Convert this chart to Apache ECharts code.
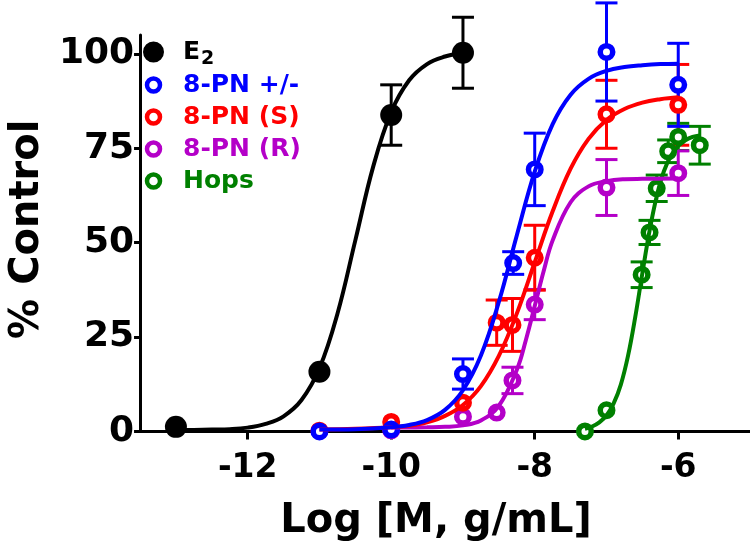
<!DOCTYPE html>
<html>
<head>
<meta charset="utf-8">
<script src="https://cdn.jsdelivr.net/npm/echarts@6/dist/echarts.min.js"></script>
<style>html,body{margin:0;padding:0;background:#fff}#c{width:750px;height:549px}</style>
</head>
<body>
<div id="c"></div>
<script>
// ---- data ----
const seriesNames = ['E2', '8-PN +/-', '8-PN (S)', '8-PN (R)', 'Hops'];
const colors = ['#000000', '#0000ff', '#ff0000', '#b400c8', '#008000'];

const e2X = [-13, -12, -11, -10, -9];
const e2Y = [1.2, -0.3, 15.8, 83.8, 100.3];
const e2Err = [0, 0, 0, 8, 9.4];

const pnX = [-11, -10, -9, -8.3, -8, -7, -6];
const pnY = [0, 0.5, 15.2, 44.6, 69.4, 100.5, 91.8];
const pnErr = [0, 0, 4, 3, 9.6, 13, 11];

const pnSX = [-11, -10, -9, -8.53, -8.31, -8, -7, -6];
const pnSY = [0.2, 2.5, 7.6, 28.8, 28.2, 46, 84, 86.5];
const pnSErr = [0, 0, 0, 6, 7, 8.6, 9, 10.7];

const pnRX = [-10, -9, -8.53, -8.31, -8, -7, -6];
const pnRY = [0.3, 3.9, 5.0, 13.5, 33.6, 64.6, 68.4];
const pnRErr = [0, 0, 0, 3.5, 4, 7.4, 5.9];

const hopsX = [-7.3, -7, -6.51, -6.4, -6.3, -6.14, -6, -5.7];
const hopsY = [0, 5.6, 41.5, 52.7, 64.4, 74.2, 78, 75.8];
const hopsErr = [0, 0, 3.4, 3.2, 3.5, 3, 3.6, 5];

// fitted curves
const e2Curve = [[-13,0.3],[-12.75,0.4],[-12.5,0.5],[-12.25,0.6],[-12,1.0],[-11.75,2.0],[-11.5,4.0],[-11.25,8.3],[-11,16.7],[-10.75,31.1],[-10.5,50.6],[-10.25,70.2],[-10,84.6],[-9.75,93.0],[-9.5,97.3],[-9.25,99.3],[-9,100.3]];
const pnCurve = [[-11,0.5],[-10.5,0.6],[-10,1.1],[-9.75,1.7],[-9.5,3.0],[-9.25,5.7],[-9,10.9],[-8.75,20.1],[-8.5,34.3],[-8.25,51.9],[-8,68.8],[-7.75,81.4],[-7.5,89.2],[-7.25,93.4],[-7,95.5],[-6.75,96.5],[-6.5,97.0],[-6.25,97.3],[-6,97.4]];
const pnSCurve = [[-11,0.5],[-10.5,0.7],[-10,1.1],[-9.75,1.5],[-9.5,2.4],[-9.25,4.1],[-9,7.0],[-8.75,12.0],[-8.5,20.0],[-8.25,31.2],[-8,44.8],[-7.75,58.3],[-7.5,69.6],[-7.25,77.5],[-7,82.5],[-6.75,85.4],[-6.5,87.1],[-6.25,88.0],[-6,88.5]];
const pnRCurve = [[-10,1.0],[-9.5,1.1],[-9.25,1.2],[-9,1.6],[-8.75,2.9],[-8.5,6.8],[-8.25,16.3],[-8.125,24.1],[-8,33.2],[-7.875,42.5],[-7.75,50.6],[-7.5,60.7],[-7.25,64.9],[-7,66.3],[-6.75,66.8],[-6.5,66.9],[-6,67.0]];
const hopsCurve = [[-7.3,0.7],[-7.2,1.3],[-7.1,2.4],[-7,4.2],[-6.9,7.4],[-6.8,12.4],[-6.7,20.0],[-6.6,30.2],[-6.5,41.9],[-6.4,53.1],[-6.3,62.3],[-6.2,68.9],[-6.1,73.1],[-6,75.6],[-5.9,77.1],[-5.8,78.0],[-5.7,78.4]];

const xTicks = [-12, -10, -8, -6];
const yTicks = [0, 25, 50, 75, 100];

// ---- build chart ----
const FONT = 'DejaVu Sans';
const sets = [
  {name: seriesNames[0], color: colors[0], x: e2X, y: e2Y, e: e2Err, curve: e2Curve, filled: true},
  {name: seriesNames[1], color: colors[1], x: pnX, y: pnY, e: pnErr, curve: pnCurve},
  {name: seriesNames[2], color: colors[2], x: pnSX, y: pnSY, e: pnSErr, curve: pnSCurve},
  {name: seriesNames[3], color: colors[3], x: pnRX, y: pnRY, e: pnRErr, curve: pnRCurve},
  {name: seriesNames[4], color: colors[4], x: hopsX, y: hopsY, e: hopsErr, curve: hopsCurve}
];

function errRender(color) {
  return function (params, api) {
    const x = api.value(0), y = api.value(1), e = api.value(2);
    if (!e) return null;
    const t = api.coord([x, y + e]), b = api.coord([x, y - e]);
    const hw = 11;
    const st = {stroke: color, lineWidth: 3};
    return {type: 'group', children: [
      {type: 'line', shape: {x1: t[0], y1: t[1], x2: b[0], y2: b[1]}, style: st},
      {type: 'line', shape: {x1: t[0] - hw, y1: t[1], x2: t[0] + hw, y2: t[1]}, style: st},
      {type: 'line', shape: {x1: b[0] - hw, y1: b[1], x2: b[0] + hw, y2: b[1]}, style: st}
    ]};
  };
}

const series = [];
sets.slice().reverse().forEach(s => {
  series.push({
    type: 'line', name: s.name + ' fit', data: s.curve, showSymbol: false, smooth: 0.4,
    lineStyle: {color: s.color, width: 4}, silent: true
  });
  series.push({
    type: 'custom', name: s.name + ' err', clip: false, silent: true,
    renderItem: errRender(s.color), encode: {x: 0, y: 1},
    data: s.x.map((v, i) => [v, s.y[i], s.e[i]])
  });
  series.push({
    type: 'scatter', name: s.name, symbol: 'circle',
    symbolSize: s.filled ? 22 : 12.5,
    itemStyle: s.filled ? {color: s.color, opacity: 1} : {color: '#ffffff', borderColor: s.color, borderWidth: 5.5, opacity: 1},
    data: s.x.map((v, i) => [v, s.y[i]])
  });
});

const legendData = sets.map(s => ({
  name: s.name, icon: 'circle',
  itemStyle: s.filled ? {color: s.color, borderColor: s.color, borderWidth: 8} : {color: '#ffffff', borderColor: s.color, borderWidth: 4.5},
  textStyle: {color: s.color}
}));

const chart = echarts.init(document.getElementById('c'));
chart.setOption({
  animation: false,
  backgroundColor: '#ffffff',
  textStyle: {fontFamily: FONT},
  grid: {left: 114, right: 0, top: 35, bottom: 117.6, containLabel: false},
  legend: {
    orient: 'vertical', left: 138, top: 31, itemWidth: 13, itemHeight: 13, itemGap: 0,
    selectedMode: false,
    formatter: n => n === 'E2' ? '{main|E}{sub|2}' : n,
    textStyle: {
      fontFamily: FONT, fontWeight: 'bold', fontSize: 25, lineHeight: 32, padding: [0, 0, 0, 18],
      rich: {
        main: {fontFamily: FONT, fontWeight: 'bold', fontSize: 25, lineHeight: 32, color: '#000'},
        sub: {fontFamily: FONT, fontWeight: 'bold', fontSize: 19, lineHeight: 19, verticalAlign: 'top', padding: [14, 0, 0, 1], color: '#000'}
      }
    },
    data: legendData
  },
  xAxis: {
    type: 'value', min: -13.5, max: -5,
    name: 'Log [M, g/mL]', nameLocation: 'middle', nameGap: 70,
    nameTextStyle: {fontFamily: FONT, fontWeight: 'bold', fontSize: 40, color: '#000', padding: [0, 18, 0, 0]},
    axisLine: {show: true, onZero: false, lineStyle: {color: '#000', width: 3}},
    axisTick: {show: true, length: 8, lineStyle: {color: '#000', width: 3}, customValues: xTicks},
    axisLabel: {fontFamily: FONT, fontWeight: 'bold', fontSize: 33, color: '#000', margin: 21, customValues: xTicks},
    splitLine: {show: false}
  },
  yAxis: {
    type: 'value', min: 0, max: 105,
    name: '% Control', nameLocation: 'middle', nameGap: 70,
    nameTextStyle: {fontFamily: FONT, fontWeight: 'bold', fontSize: 40, color: '#000', padding: [0, 0, 0, 8]},
    axisLine: {show: true, lineStyle: {color: '#000', width: 3}},
    axisTick: {show: true, length: 6, lineStyle: {color: '#000', width: 3}, customValues: yTicks},
    axisLabel: {fontFamily: FONT, fontWeight: 'bold', fontSize: 36, color: '#000', margin: 6, customValues: yTicks},
    splitLine: {show: false}
  },
  series: series
});
</script>
</body>
</html>
